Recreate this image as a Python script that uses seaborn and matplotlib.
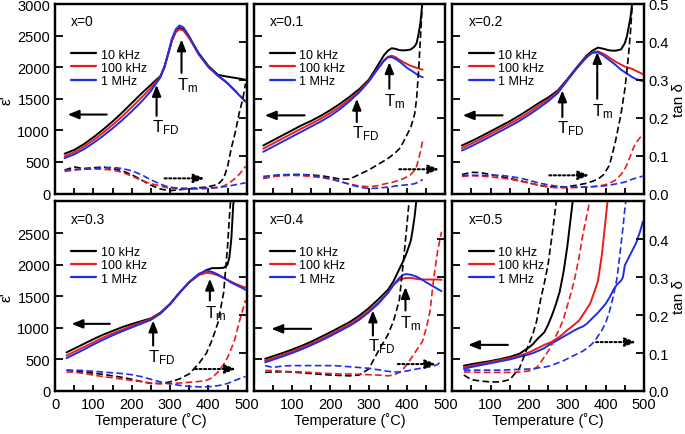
import numpy as np
import matplotlib
matplotlib.use("Agg")
import matplotlib.pyplot as plt
import seaborn as sns
from matplotlib.lines import Line2D

nan = np.nan

# ---------------- data ----------------
freqs = ["10 kHz", "100 kHz", "1 MHz"]
compositions = ["x=0", "x=0.1", "x=0.2", "x=0.3", "x=0.4", "x=0.5"]

# x = 0
T1 = [25, 50, 75, 100, 125, 150, 175, 200, 225, 250, 275, 285, 295, 305, 315, 325, 335, 350, 375, 400,
      425, 440, 450, 460, 470, 480, 490, 497]
eps1_10k = [630, 690, 780, 890, 1010, 1140, 1280, 1430, 1580, 1720, 1860, 2000, 2200, 2420, 2560, 2620, 2600,
            2470, 2220, 2020, 1880, 1860, 1850, 1840, 1830, 1820, 1810, 1800]
eps1_100k = [590, 655, 740, 845, 960, 1085, 1220, 1365, 1515, 1670, 1850, 1990, 2200, 2420, 2560, 2600, 2580,
             2460, 2200, 2000, 1860, 1790, 1740, 1680, 1620, 1560, 1500, 1460]
eps1_1M = [560, 620, 700, 800, 910, 1030, 1160, 1300, 1450, 1620, 1840, 1990, 2220, 2450, 2600, 2660, 2630,
           2490, 2210, 2010, 1870, 1800, 1750, 1690, 1630, 1560, 1500, 1450]
tan1_10k = [0.062, 0.07, 0.066, 0.068, 0.07, 0.066, 0.06, 0.05, 0.036, 0.022, 0.012, 0.01, 0.008, 0.008,
            0.009, 0.01, 0.011, 0.012, 0.015, 0.018, 0.024, 0.04, 0.07, 0.12, 0.16, 0.21, 0.25, 0.29]
tan1_100k = [0.058, 0.062, 0.064, 0.065, 0.064, 0.062, 0.056, 0.046, 0.035, 0.026, 0.02, 0.017, 0.015, 0.014,
             0.013, 0.013, 0.012, 0.012, 0.012, 0.013, 0.016, 0.02, 0.025, 0.032, 0.04, 0.05, 0.062, 0.072]
tan1_1M = [0.062, 0.064, 0.064, 0.066, 0.068, 0.069, 0.066, 0.06, 0.05, 0.036, 0.025, 0.021, 0.018, 0.016,
           0.015, 0.014, 0.014, 0.014, 0.014, 0.015, 0.016, 0.018, 0.019, 0.021, 0.023, 0.025, 0.027, 0.028]

# x = 0.1
T2 = [25, 50, 75, 100, 125, 150, 175, 200, 225, 250, 275, 300, 320, 340, 350, 360, 370, 380, 390, 400,
      410, 420, 425, 430, 435, 441]
eps2_10k = [760, 840, 920, 1000, 1080, 1150, 1230, 1320, 1420, 1530, 1650, 1800, 1990, 2190, 2260, 2300,
            2290, 2270, 2265, 2270, 2280, 2330, 2380, 2520, 2700, 3080]
eps2_100k = [710, 790, 870, 950, 1030, 1105, 1185, 1275, 1375, 1490, 1620, 1780, 1950, 2110, 2165, 2180,
             2160, 2120, 2080, 2050, 2020, 2000, 1990, 1980, 1970, 1960]
eps2_1M = [660, 740, 820, 900, 980, 1060, 1140, 1230, 1335, 1460, 1600, 1770, 1940, 2100, 2155, 2160,
           2130, 2090, 2040, 1990, 1950, 1910, 1890, 1870, 1855, 1840]
tan2_10k = [0.04, 0.045, 0.048, 0.05, 0.05, 0.049, 0.047, 0.043, 0.038, 0.038, 0.05, 0.062, 0.074, 0.086,
            0.092, 0.1, 0.108, 0.118, 0.135, 0.155, 0.175, 0.21, 0.25, 0.32, 0.41, 0.52]
tan2_100k = [0.04, 0.045, 0.047, 0.048, 0.047, 0.045, 0.042, 0.038, 0.032, 0.025, 0.02, 0.018, 0.02, 0.025,
             0.027, 0.029, 0.032, 0.035, 0.039, 0.044, 0.05, 0.062, 0.072, 0.09, 0.11, 0.14]
tan2_1M = [0.045, 0.048, 0.05, 0.05, 0.05, 0.048, 0.045, 0.039, 0.032, 0.024, 0.017, 0.013, 0.014, 0.016,
           0.017, 0.018, 0.02, 0.021, 0.022, 0.023, 0.024, 0.026, 0.028, 0.03, 0.033, 0.037]

# x = 0.2
T3 = [25, 50, 75, 100, 125, 150, 175, 200, 225, 250, 275, 300, 325, 350, 365, 380, 395, 410, 425, 440,
      450, 455, 460, 465, 470, 480, 490, 497]
eps3_10k = [760, 830, 905, 985, 1065, 1145, 1235, 1330, 1430, 1520, 1630, 1810, 2000, 2180, 2260, 2310,
            2290, 2265, 2260, 2280, 2380, 2480, 2630, 2800, 3050, nan, nan, nan]
eps3_100k = [720, 790, 865, 945, 1025, 1105, 1190, 1285, 1390, 1490, 1610, 1800, 1990, 2160, 2235, 2250,
             2210, 2150, 2090, 2040, 2010, 2000, 1990, 1980, 1970, 1940, 1910, 1890]
eps3_1M = [680, 750, 825, 905, 985, 1065, 1150, 1245, 1350, 1460, 1590, 1790, 1985, 2155, 2225, 2235,
           2180, 2110, 2040, 1960, 1920, 1900, 1880, 1860, 1840, 1810, 1790, 1780]
tan3_10k = [0.05, 0.056, 0.055, 0.05, 0.045, 0.04, 0.034, 0.028, 0.022, 0.018, 0.017, 0.018, 0.022, 0.027,
            0.032, 0.038, 0.05, 0.075, 0.135, 0.21, 0.275, 0.32, 0.37, 0.43, 0.51, nan, nan, nan]
tan3_100k = [0.045, 0.047, 0.046, 0.044, 0.041, 0.038, 0.033, 0.028, 0.022, 0.017, 0.015, 0.015, 0.016,
             0.017, 0.018, 0.02, 0.022, 0.027, 0.035, 0.05, 0.065, 0.075, 0.088, 0.1, 0.115, 0.135, 0.148, 0.155]
tan3_1M = [0.048, 0.048, 0.048, 0.048, 0.048, 0.045, 0.041, 0.035, 0.028, 0.023, 0.019, 0.017, 0.017,
           0.017, 0.018, 0.019, 0.02, 0.022, 0.025, 0.028, 0.03, 0.032, 0.034, 0.036, 0.038, 0.041, 0.044, 0.046]

# x = 0.3
T4 = [30, 50, 75, 100, 125, 150, 175, 200, 225, 250, 275, 300, 325, 350, 375, 395, 410, 425, 440, 450,
      455, 460, 465, 470, 480, 490, 497]
eps4_10k = [610, 670, 745, 820, 890, 950, 1010, 1060, 1105, 1150, 1240, 1380, 1560, 1720, 1840, 1915,
            1945, 1945, 1950, 2000, 2120, 2410, 2950, 3200, nan, nan, nan]
eps4_100k = [560, 620, 695, 770, 845, 910, 970, 1030, 1085, 1140, 1235, 1375, 1555, 1720, 1835, 1870,
             1860, 1830, 1790, 1760, 1745, 1730, 1715, 1700, 1675, 1650, 1640]
eps4_1M = [520, 580, 655, 735, 810, 880, 945, 1005, 1065, 1125, 1225, 1370, 1555, 1725, 1855, 1905,
           1885, 1845, 1790, 1755, 1735, 1715, 1700, 1685, 1655, 1625, 1600]
tan4_10k = [0.055, 0.052, 0.05, 0.047, 0.044, 0.04, 0.036, 0.031, 0.025, 0.02, 0.02, 0.024, 0.032, 0.045,
            0.072, 0.1, 0.135, 0.18, 0.26, 0.38, 0.46, 0.53, nan, nan, nan, nan, nan]
tan4_100k = [0.05, 0.05, 0.046, 0.042, 0.038, 0.035, 0.031, 0.028, 0.025, 0.021, 0.019, 0.02, 0.021,
             0.023, 0.025, 0.028, 0.035, 0.05, 0.07, 0.088, 0.1, 0.112, 0.125, 0.14, 0.18, 0.215, 0.24]
tan4_1M = [0.055, 0.055, 0.054, 0.052, 0.05, 0.048, 0.046, 0.043, 0.038, 0.031, 0.024, 0.019, 0.015,
           0.012, 0.011, 0.011, 0.012, 0.014, 0.017, 0.02, 0.022, 0.024, 0.026, 0.028, 0.032, 0.036, 0.038]

# x = 0.4
T5 = [30, 50, 75, 100, 125, 150, 175, 200, 225, 250, 275, 300, 325, 350, 365, 380, 390, 400, 410, 415,
      420, 425, 430, 440, 450, 460, 470, 480, 490]
eps5_10k = [510, 550, 600, 655, 715, 780, 855, 930, 1010, 1090, 1190, 1310, 1450, 1600, 1740, 1930, 2055,
            2200, 2380, 2560, 2770, 3050, nan, nan, nan, nan, nan, nan, nan]
eps5_100k = [480, 520, 570, 625, 685, 750, 820, 895, 975, 1055, 1150, 1270, 1400, 1560, 1680, 1760, 1780,
             1790, 1790, 1785, 1780, 1775, 1770, 1765, 1765, 1765, 1765, 1765, 1760]
eps5_1M = [455, 495, 545, 600, 660, 725, 795, 870, 950, 1030, 1125, 1245, 1380, 1550, 1680, 1790, 1840,
           1850, 1840, 1830, 1820, 1810, 1795, 1760, 1720, 1685, 1650, 1615, 1580]
tan5_10k = [0.049, 0.05, 0.051, 0.05, 0.048, 0.046, 0.044, 0.042, 0.041, 0.04, 0.042, 0.058, 0.105, 0.148,
            0.185, 0.24, 0.335, 0.44, 0.55, nan, nan, nan, nan, nan, nan, nan, nan, nan, nan]
tan5_100k = [0.054, 0.054, 0.052, 0.051, 0.05, 0.049, 0.047, 0.046, 0.045, 0.045, 0.044, 0.043, 0.042,
             0.04, 0.042, 0.049, 0.058, 0.07, 0.085, 0.093, 0.1, 0.108, 0.115, 0.13, 0.165, 0.21, 0.3, 0.37, 0.42]
tan5_1M = [0.067, 0.062, 0.066, 0.067, 0.067, 0.067, 0.067, 0.067, 0.066, 0.064, 0.062, 0.06, 0.056,
           0.052, 0.05, 0.05, 0.051, 0.053, 0.055, 0.056, 0.057, 0.058, 0.059, 0.06, 0.062, 0.064, 0.066, 0.07, 0.08]

# x = 0.5
T6 = [30, 50, 75, 100, 125, 150, 175, 200, 210, 220, 230, 240, 250, 260, 270, 280, 290, 300, 310, 320,
      330, 340, 350, 360, 370, 380, 390, 400, 410, 420, 430, 440, 445, 450, 460, 470, 480, 490, 497]
eps6_10k = [400, 425, 450, 475, 505, 540, 590, 690, 740, 810, 870, 930, 1050, 1200, 1370, 1570, 1880,
            2290, 2800, 3300] + [nan] * 19
eps6_100k = [375, 400, 430, 460, 490, 520, 560, 610, 640, 670, 700, 730, 755, 780, 820, 860, 910, 965,
             1010, 1060, 1110, 1200, 1295, 1390, 1560, 1745, 2150, 2720, 3300] + [nan] * 10
eps6_1M = [350, 380, 410, 440, 470, 500, 540, 580, 600, 625, 650, 680, 720, 755, 790, 825, 860, 895, 930,
           965, 995, 1020, 1060, 1120, 1180, 1240, 1310, 1380, 1480, 1600, 1690, 1745, 1800, 1990, 2110,
           2230, 2350, 2530, 2680]
tan6_10k = [0.042, 0.03, 0.026, 0.024, 0.024, 0.03, 0.06, 0.125, 0.15, 0.185, 0.24, 0.285, 0.335, 0.41,
            0.49, 0.57] + [nan] * 23
tan6_100k = [0.05, 0.05, 0.049, 0.049, 0.049, 0.049, 0.05, 0.053, 0.056, 0.062, 0.075, 0.09, 0.105, 0.123,
             0.145, 0.165, 0.19, 0.225, 0.26, 0.3, 0.35, 0.41, 0.46, 0.51] + [nan] * 15
tan6_1M = [0.055, 0.055, 0.055, 0.055, 0.055, 0.056, 0.057, 0.058, 0.059, 0.06, 0.062, 0.063, 0.065,
           0.068, 0.072, 0.076, 0.08, 0.085, 0.09, 0.095, 0.1, 0.105, 0.112, 0.12, 0.13, 0.145, 0.16, 0.18,
           0.21, 0.25, 0.3, 0.385, 0.43, 0.48, 0.56] + [nan] * 4

temps = [T1, T2, T3, T4, T5, T6]
eps = [(eps1_10k, eps1_100k, eps1_1M), (eps2_10k, eps2_100k, eps2_1M), (eps3_10k, eps3_100k, eps3_1M),
       (eps4_10k, eps4_100k, eps4_1M), (eps5_10k, eps5_100k, eps5_1M), (eps6_10k, eps6_100k, eps6_1M)]
tans = [(tan1_10k, tan1_100k, tan1_1M), (tan2_10k, tan2_100k, tan2_1M), (tan3_10k, tan3_100k, tan3_1M),
        (tan4_10k, tan4_100k, tan4_1M), (tan5_10k, tan5_100k, tan5_1M), (tan6_10k, tan6_100k, tan6_1M)]

# annotation positions (T, value) : left arrow, dotted right arrow, T_FD arrow, T_m arrow
left_arrows = [(135, 33, 1250), (133, 29, 1237), (131, 27, 1237), (143, 43, 1063), (150, 46, 984), (145, 41, 730)]
right_arrows = [(286, 390, 0.04), (380, 484, 0.064), (253, 357, 0.048), (365, 472, 0.058), (376, 476, 0.071),
                (375, 479, 0.129)]
tfd_arrows = [(265, 1230, 1720), (269, 1132, 1500), (287, 1211, 1632), (256, 719, 1116), (311, 878, 1275), None]
tm_arrows = [(330, 1910, 2440), (354, 1659, 2080), (378, 1500, 2240), (404, 1433, 1778), (396, 1275, 1646), None]

# ---------------- style ----------------
sns.set_style("ticks", {"axes.edgecolor": "black", "xtick.color": "black", "ytick.color": "black",
                        "text.color": "black", "axes.labelcolor": "black"})
plt.rcParams["font.family"] = ["Liberation Sans", "DejaVu Sans"]
plt.rcParams["mathtext.fontset"] = "custom"
plt.rcParams["mathtext.rm"] = "Liberation Sans"
plt.rcParams["mathtext.it"] = "Liberation Sans:italic"
plt.rcParams["mathtext.bf"] = "Liberation Sans:bold"

colors = ["#000000", "#ea1c1c", "#1f2de6"]

fig = plt.figure(figsize=(6.85, 4.35), dpi=100)
gs = fig.add_gridspec(2, 3, left=55 / 685, right=644 / 685, top=1 - 5 / 435, bottom=1 - 392 / 435,
                      wspace=0.0365, hspace=0.042)

arrow_kw = dict(arrowstyle="-|>,head_length=0.55,head_width=0.22", color="k", lw=1.5,
                shrinkA=0, shrinkB=0, mutation_scale=12)

for i in range(6):
    r, c = divmod(i, 3)
    ax = fig.add_subplot(gs[r, c])
    ax2 = ax.twinx()
    T = temps[i]
    for vals, col in zip(eps[i], colors):
        sns.lineplot(x=T, y=vals, ax=ax, color=col, lw=1.4, estimator=None, sort=False)
    for vals, col in zip(tans[i], colors):
        sns.lineplot(x=T, y=vals, ax=ax2, color=col, lw=1.2, linestyle=(0, (4.0, 2.0)),
                     estimator=None, sort=False)

    ax.set_xlim(0, 500)
    ax.set_ylim(0, 3000)
    ax2.set_ylim(0, 0.5)

    # x ticks
    xt = list(range(0, 501, 50))
    ax.set_xticks(xt)
    if r == 1:
        labs = [str(t) if t % 100 == 0 else "" for t in xt]
        if c > 0:
            labs[0] = ""
        ax.set_xticklabels(labs)
        ax.set_xlabel("Temperature (˚C)", fontsize=10.5, labelpad=1)
    else:
        ax.tick_params(axis="x", labelbottom=False)
        ax.set_xlabel("")

    # left ticks
    yt = list(range(0, 3001, 500))
    ax.set_yticks(yt)
    if c == 0:
        ylabs = [str(v) for v in yt]
        if r == 1:
            ylabs[-1] = ""
        ax.set_yticklabels(ylabs)
        ax.set_ylabel("ε'", fontsize=11, labelpad=3)
    else:
        ax.tick_params(axis="y", labelleft=False)
        ax.set_ylabel("")

    # right ticks
    rt = [0.0, 0.1, 0.2, 0.3, 0.4, 0.5]
    ax2.set_yticks(rt)
    if c == 2:
        rlabs = [f"{v:.1f}" for v in rt]
        if r == 1:
            rlabs[-1] = ""
        ax2.set_yticklabels(rlabs)
        ax2.set_ylabel("tan δ", fontsize=11, labelpad=2)
    else:
        ax2.tick_params(axis="y", labelright=False)
        ax2.set_ylabel("")

    ax.tick_params(axis="x", direction="in", length=4.5, width=1.3, labelsize=10.5, pad=4, top=False)
    ax.tick_params(axis="y", direction="in", length=6, width=1.3, labelsize=10.5, pad=3.5, right=False)
    ax2.tick_params(axis="y", direction="in", length=6, width=1.3, labelsize=10.5, pad=3.5, left=False)
    for sp in list(ax.spines.values()) + list(ax2.spines.values()):
        sp.set_linewidth(1.6)
        sp.set_color("black")

    # composition label and legend
    ax.text(0.085, 0.91, compositions[i], transform=ax.transAxes, fontsize=10, ha="left", va="center")
    handles = [Line2D([], [], color=col, lw=1.6) for col in colors]
    ax.legend(handles, freqs, loc="upper left", bbox_to_anchor=(0.085, 0.765), frameon=False, fontsize=9,
              handlelength=2.0, handletextpad=0.35, labelspacing=0.1, borderpad=0, borderaxespad=0)

    # arrows
    t0, t1, yv = left_arrows[i]
    ax.annotate("", xy=(t1, yv), xytext=(t0, yv), arrowprops=arrow_kw)
    t0, t1, yv = right_arrows[i]
    ax2.annotate("", xy=(t1, yv), xytext=(t0, yv), arrowprops=dict(arrow_kw, linestyle=(0, (1.0, 1.2))))
    if tfd_arrows[i] is not None:
        tx, y0, y1 = tfd_arrows[i]
        ax.annotate("", xy=(tx, y1), xytext=(tx, y0), arrowprops=arrow_kw)
        ax.text(tx - 13, y0 - 20, r"T$_\mathrm{FD}$", fontsize=12, ha="left", va="top")
    if tm_arrows[i] is not None:
        tx, y0, y1 = tm_arrows[i]
        ax.annotate("", xy=(tx, y1), xytext=(tx, y0), arrowprops=arrow_kw)
        ax.text(tx - 13, y0 - 40, r"T$_\mathrm{m}$", fontsize=12, ha="left", va="top")

fig.savefig("out.png", dpi=100)
